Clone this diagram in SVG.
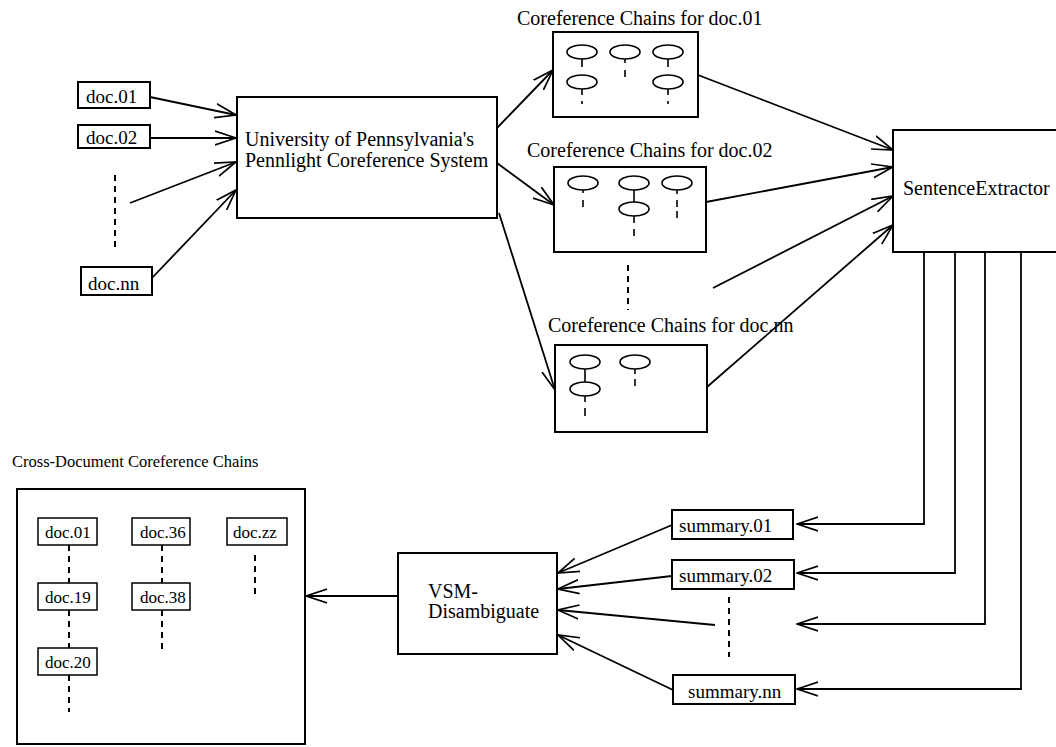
<svg xmlns="http://www.w3.org/2000/svg" width="1056" height="747" viewBox="0 0 1056 747">
<style>
text{font-family:"Liberation Serif","Times New Roman",serif;fill:#000}
.t20{font-size:20px}
.t19{font-size:19px}
.t17{font-size:17px}
.t16{font-size:16.5px}
.box{fill:#fff;stroke:#000;stroke-width:2}
.ibox{fill:#fff;stroke:#000;stroke-width:1.5}
.ell{fill:none;stroke:#000;stroke-width:1.6}
.stem{stroke:#000;stroke-width:1.6;fill:none}
.dash{stroke:#000;stroke-width:2;fill:none;stroke-dasharray:6 5}
.conn{stroke:#000;stroke-width:1.8;fill:none}
</style>
<defs>
<marker id="arr" viewBox="0 0 22 16" refX="21" refY="8" markerWidth="22" markerHeight="16" markerUnits="userSpaceOnUse" orient="auto">
<path d="M0,1 L21,8 L0,15" fill="none" stroke="#000" stroke-width="1.7"/>
</marker>
</defs>

<g id="connectors">
<line class="conn" x1="150" y1="97" x2="236" y2="115" marker-end="url(#arr)"/>
<line class="conn" x1="150" y1="138" x2="236" y2="138" marker-end="url(#arr)"/>
<line class="conn" x1="130" y1="203" x2="236" y2="162" marker-end="url(#arr)"/>
<line class="conn" x1="152" y1="278" x2="236" y2="190" marker-end="url(#arr)"/>
<line class="conn" x1="497" y1="128" x2="553" y2="70" marker-end="url(#arr)"/>
<line class="conn" x1="497" y1="163" x2="554" y2="205" marker-end="url(#arr)"/>
<line class="conn" x1="499" y1="213" x2="555" y2="390" marker-end="url(#arr)"/>
<line class="conn" x1="698" y1="75" x2="893" y2="150" marker-end="url(#arr)"/>
<line class="conn" x1="706" y1="202" x2="893" y2="167" marker-end="url(#arr)"/>
<line class="conn" x1="713" y1="288" x2="893" y2="196" marker-end="url(#arr)"/>
<line class="conn" x1="707" y1="387" x2="893" y2="225" marker-end="url(#arr)"/>
<polyline class="conn" points="924,252 924,524 797,524" marker-end="url(#arr)"/>
<polyline class="conn" points="955,252 955,573 797,573" marker-end="url(#arr)"/>
<polyline class="conn" points="985,252 985,624 797,624" marker-end="url(#arr)"/>
<polyline class="conn" points="1021,252 1021,689 797,689" marker-end="url(#arr)"/>
<line class="conn" x1="672" y1="525" x2="558" y2="573" marker-end="url(#arr)"/>
<line class="conn" x1="672" y1="576" x2="558" y2="589" marker-end="url(#arr)"/>
<line class="conn" x1="715" y1="625" x2="558" y2="610" marker-end="url(#arr)"/>
<line class="conn" x1="673" y1="690" x2="558" y2="635" marker-end="url(#arr)"/>
<line class="conn" x1="398" y1="596" x2="306" y2="596" marker-end="url(#arr)"/>
<line class="dash" x1="115" y1="175" x2="115" y2="252"/>
<line class="dash" x1="628" y1="265" x2="628" y2="310"/>
<line class="dash" x1="729" y1="597" x2="729" y2="657"/>
</g>

<g id="doc01"><rect class="box" x="78" y="82" width="72" height="26"/><text class="t19" x="86" y="103">doc.01</text></g>
<g id="doc02"><rect class="box" x="78" y="125" width="72" height="23"/><text class="t19" x="86" y="144">doc.02</text></g>
<g id="docnn"><rect class="box" x="81" y="267" width="71" height="28"/><text class="t19" x="88" y="290">doc.nn</text></g>

<g id="penn">
<rect class="box" x="237" y="97" width="260" height="121"/>
<text class="t20" x="245" y="146">University of Pennsylvania's</text>
<text class="t20" x="245" y="167">Pennlight Coreference System</text>
</g>

<g id="chains01">
<text class="t20" x="517" y="25">Coreference Chains for doc.01</text>
<rect class="box" x="553" y="32" width="145" height="85"/>
<ellipse class="ell" cx="582" cy="52" rx="15" ry="7"/>
<ellipse class="ell" cx="625" cy="52" rx="15" ry="7"/>
<ellipse class="ell" cx="668" cy="52" rx="15" ry="7"/>
<ellipse class="ell" cx="582" cy="82" rx="15" ry="7"/>
<ellipse class="ell" cx="668" cy="82" rx="15" ry="7"/>
<path class="stem" d="M582,59V67 M625,59V63 M625,70V77 M668,59V67 M582,89V95 M582,101V104 M668,89V95 M668,101V104"/>
</g>

<g id="chains02">
<text class="t20" x="527" y="157">Coreference Chains for doc.02</text>
<rect class="box" x="554" y="167" width="152" height="85"/>
<ellipse class="ell" cx="583" cy="183" rx="15" ry="7"/>
<ellipse class="ell" cx="634" cy="183" rx="15" ry="7"/>
<ellipse class="ell" cx="677" cy="183" rx="15" ry="7"/>
<ellipse class="ell" cx="634" cy="209" rx="15" ry="7"/>
<path class="stem" d="M583,190V193 M583,200V207 M634,190V202 M677,190V194 M677,200V207 M677,211V218 M634,216V223 M634,229V236"/>
</g>

<g id="chainsnn">
<text class="t20" x="548" y="332">Coreference Chains for doc.nn</text>
<rect class="box" x="555" y="345" width="152" height="87"/>
<ellipse class="ell" cx="585" cy="362" rx="15" ry="7"/>
<ellipse class="ell" cx="635" cy="362" rx="15" ry="7"/>
<ellipse class="ell" cx="585" cy="389" rx="15" ry="7"/>
<path class="stem" d="M585,369V382 M635,369V374 M635,379V386 M585,396V402 M585,408V416"/>
</g>

<g id="sentenceExtractor">
<rect class="box" x="893" y="130" width="170" height="122"/>
<text class="t20" x="903" y="195">SentenceExtractor</text>
</g>

<g id="summary01"><rect class="box" x="672" y="510" width="121" height="29"/><text class="t19" x="679" y="532">summary.01</text></g>
<g id="summary02"><rect class="box" x="672" y="560" width="122" height="29"/><text class="t19" x="679" y="582">summary.02</text></g>
<g id="summarynn"><rect class="box" x="673" y="675" width="122" height="29"/><text class="t19" x="688" y="698">summary.nn</text></g>

<g id="vsm">
<rect class="box" x="398" y="553" width="159" height="101"/>
<text class="t20" x="428" y="598">VSM-</text>
<text class="t20" x="428" y="618">Disambiguate</text>
</g>

<g id="crossdoc">
<text class="t16" x="12" y="467">Cross-Document Coreference Chains</text>
<rect class="box" x="17" y="489" width="288" height="255"/>
<path class="dash" d="M69,545V583 M69,610V648 M69,675V712 M162,545V583 M162,610V654 M255,555V594"/>
<rect class="ibox" x="38" y="518" width="59" height="27"/><text class="t17" x="45" y="538">doc.01</text>
<rect class="ibox" x="132" y="518" width="58" height="27"/><text class="t17" x="140" y="538">doc.36</text>
<rect class="ibox" x="227" y="518" width="60" height="27"/><text class="t17" x="233" y="538">doc.zz</text>
<rect class="ibox" x="38" y="583" width="59" height="27"/><text class="t17" x="45" y="603">doc.19</text>
<rect class="ibox" x="132" y="583" width="58" height="27"/><text class="t17" x="140" y="603">doc.38</text>
<rect class="ibox" x="38" y="648" width="59" height="27"/><text class="t17" x="45" y="668">doc.20</text>
</g>
</svg>
